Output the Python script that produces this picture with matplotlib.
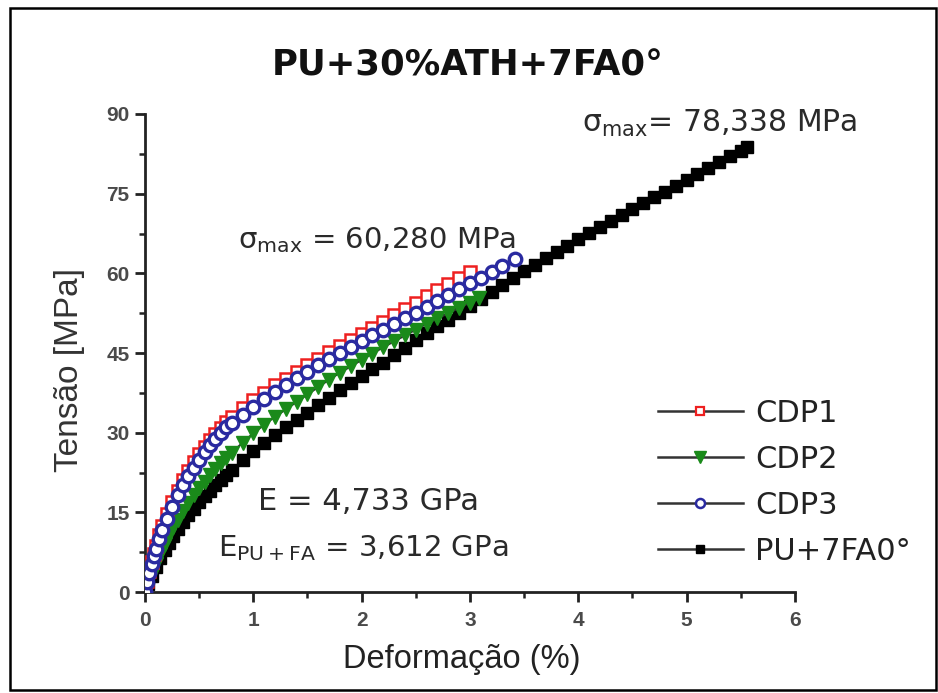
import matplotlib
matplotlib.use("Agg")
import matplotlib.pyplot as plt
from matplotlib.lines import Line2D
from matplotlib.patches import Rectangle

# stress-strain data (strain %, stress MPa)
cdp1_x = [0, 0.02, 0.04, 0.06, 0.08, 0.1, 0.13, 0.16, 0.2, 0.25, 0.3, 0.35, 0.4, 0.45, 0.5,
          0.55, 0.6, 0.65, 0.7, 0.75, 0.8, 0.9, 1.0, 1.1, 1.2, 1.3, 1.4, 1.5, 1.6, 1.7, 1.8,
          1.9, 2.0, 2.1, 2.2, 2.3, 2.4, 2.5, 2.6, 2.7, 2.8, 2.9, 3.0]
cdp1_y = [0, 2.0, 3.9, 5.6, 7.2, 8.7, 10.7, 12.5, 14.7, 17.0, 19.1, 21.0, 22.8, 24.4, 25.9,
          27.3, 28.6, 29.8, 30.9, 32.0, 33.0, 34.6, 36.1, 37.5, 38.9, 40.2, 41.5, 42.7, 43.9,
          45.1, 46.3, 47.5, 48.6, 49.8, 50.9, 52.1, 53.3, 54.5, 55.7, 56.8, 58.0, 59.2, 60.3]

cdp2_x = [0, 0.03, 0.06, 0.1, 0.14, 0.18, 0.22, 0.26, 0.3, 0.35, 0.4, 0.45, 0.5, 0.55, 0.6,
          0.65, 0.7, 0.75, 0.8, 0.9, 1.0, 1.1, 1.2, 1.3, 1.4, 1.5, 1.6, 1.7, 1.8, 1.9, 2.0,
          2.1, 2.2, 2.3, 2.4, 2.5, 2.6, 2.7, 2.8, 2.9, 3.0, 3.08]
cdp2_y = [0, 1.6, 3.2, 5.2, 7.2, 9.0, 10.7, 12.2, 13.6, 15.3, 16.8, 18.2, 19.5, 20.8, 22.0,
          23.1, 24.2, 25.2, 26.2, 28.1, 29.9, 31.5, 33.0, 34.4, 35.8, 37.2, 38.6, 40.0, 41.3,
          42.5, 43.7, 44.9, 46.1, 47.2, 48.3, 49.4, 50.5, 51.5, 52.5, 53.5, 54.5, 55.3]

cdp3_x = [0, 0.02, 0.04, 0.06, 0.08, 0.1, 0.13, 0.16, 0.2, 0.25, 0.3, 0.35, 0.4, 0.45, 0.5,
          0.55, 0.6, 0.65, 0.7, 0.75, 0.8, 0.9, 1.0, 1.1, 1.2, 1.3, 1.4, 1.5, 1.6, 1.7, 1.8,
          1.9, 2.0, 2.1, 2.2, 2.3, 2.4, 2.5, 2.6, 2.7, 2.8, 2.9, 3.0, 3.1, 3.2, 3.3, 3.42]
cdp3_y = [0, 1.8, 3.5, 5.2, 6.7, 8.1, 10.0, 11.7, 13.8, 16.1, 18.2, 20.1, 21.8, 23.4, 24.9,
          26.3, 27.6, 28.8, 29.9, 31.0, 31.9, 33.4, 34.8, 36.3, 37.7, 39.0, 40.3, 41.5, 42.7,
          43.9, 45.0, 46.1, 47.2, 48.3, 49.4, 50.5, 51.6, 52.6, 53.7, 54.8, 55.9, 57.0, 58.1,
          59.2, 60.3, 61.4, 62.7]

pufa_x = [0, 0.03, 0.06, 0.1, 0.14, 0.18, 0.22, 0.26, 0.3, 0.35, 0.4, 0.45, 0.5, 0.55, 0.6,
          0.65, 0.7, 0.75, 0.8, 0.9, 1.0, 1.1, 1.2, 1.3, 1.4, 1.5, 1.6, 1.7, 1.8, 1.9, 2.0,
          2.1, 2.2, 2.3, 2.4, 2.5, 2.6, 2.7, 2.8, 2.9, 3.0, 3.1, 3.2, 3.3, 3.4, 3.5, 3.6,
          3.7, 3.8, 3.9, 4.0, 4.1, 4.2, 4.3, 4.4, 4.5, 4.6, 4.7, 4.8, 4.9, 5.0, 5.1, 5.2,
          5.3, 5.4, 5.5, 5.56]
pufa_y = [0, 1.5, 3.0, 4.8, 6.4, 7.9, 9.3, 10.6, 11.8, 13.2, 14.5, 15.7, 16.9, 18.0, 19.1,
          20.1, 21.1, 22.1, 23.0, 24.8, 26.5, 28.1, 29.6, 31.0, 32.4, 33.8, 35.2, 36.6, 38.0,
          39.3, 40.6, 41.9, 43.2, 44.6, 46.0, 47.4, 48.7, 50.0, 51.3, 52.6, 53.9, 55.2, 56.5,
          57.8, 59.1, 60.4, 61.6, 62.8, 64.0, 65.2, 66.4, 67.6, 68.8, 69.9, 71.0, 72.1, 73.2,
          74.3, 75.4, 76.5, 77.6, 78.7, 79.8, 80.9, 82.0, 83.1, 83.8]

labels = ["CDP1", "CDP2", "CDP3", "PU+7FA0°"]
x_ticks = [0, 1, 2, 3, 4, 5, 6]
y_ticks = [0, 15, 30, 45, 60, 75, 90]

plt.rcParams["mathtext.default"] = "regular"
plt.rcParams["font.family"] = ["DejaVu Sans"]

fig = plt.figure(figsize=(9.38, 6.93), dpi=100)
ax = fig.add_axes([0.1546, 0.1457, 0.6929, 0.6898])

line_col = "#333333"
# black curve at the bottom, blue circles on top
ax.plot(pufa_x, pufa_y, color=line_col, lw=1.5, marker="s", ms=8.5,
        mfc="black", mec="black", zorder=2)
ax.plot(cdp2_x, cdp2_y, color=line_col, lw=1.5, marker="v", ms=10.5,
        mfc="#1a8a1a", mec="#1a8a1a", zorder=3)
ax.plot(cdp1_x, cdp1_y, color=line_col, lw=1.5, marker="s", ms=8.5,
        mfc="white", mec="#ee2020", mew=1.8, zorder=4)
ax.plot(cdp3_x, cdp3_y, color=line_col, lw=1.5, marker="o", ms=9,
        mfc="white", mec="#2a2aa0", mew=2.4, zorder=5)

ax.set_xlim(0, 6)
ax.set_ylim(0, 90)
ax.set_xticks(x_ticks)
ax.set_yticks(y_ticks)
ax.set_xticks([0.5, 1.5, 2.5, 3.5, 4.5, 5.5], minor=True)
ax.set_yticks([7.5, 22.5, 37.5, 52.5, 67.5, 82.5], minor=True)
for s in ["top", "right"]:
    ax.spines[s].set_visible(False)
for s in ["left", "bottom"]:
    ax.spines[s].set_linewidth(2.0)
    ax.spines[s].set_color("#222222")
ax.tick_params(which="major", direction="out", length=7, width=2.0, color="#222222",
               labelsize=15, labelcolor="#4a4a4a")
ax.tick_params(axis="x", which="major", pad=7)
ax.tick_params(axis="y", which="major", pad=4)
ax.tick_params(which="minor", direction="out", length=4, width=1.8, color="#222222")
for lab in ax.get_xticklabels() + ax.get_yticklabels():
    lab.set_family("Liberation Sans")
    lab.set_fontweight("bold")

fig.text(0.4925, 0.048, "Deformação (%)", ha="center", va="center",
         fontsize=23.5, color="#222222", family="Liberation Sans")
fig.text(0.0746, 0.466, "Tensão [MPa]", ha="center", va="center", rotation=90,
         fontsize=24, color="#333333", family="Liberation Sans")
fig.text(0.499, 0.906, "PU+30%ATH+7FA0°", ha="center", va="center",
         fontsize=25.5, fontweight="bold", color="#111111")

ann_col = "#2a2a2a"
fig.text(0.254, 0.642, r"$\sigma_{max}$ = 60,280 MPa", ha="left", va="baseline",
         fontsize=21, color=ann_col)
fig.text(0.620, 0.810, r"$\sigma_{max}$= 78,338 MPa", ha="left", va="baseline",
         fontsize=21.5, color=ann_col)
fig.text(0.275, 0.264, "E = 4,733 GPa", ha="left", va="baseline",
         fontsize=22, color=ann_col)
fig.text(0.232, 0.198, r"$E_{PU+FA}$ = 3,612 GPa", ha="left", va="baseline",
         fontsize=21, color=ann_col)

handles = [
    Line2D([], [], color=line_col, lw=1.8, marker="s", ms=6, mfc="white", mec="#ee2020", mew=1.6),
    Line2D([], [], color=line_col, lw=1.8, marker="v", ms=8, mfc="#1a8a1a", mec="#1a8a1a"),
    Line2D([], [], color=line_col, lw=1.8, marker="o", ms=6.5, mfc="white", mec="#2a2aa0", mew=1.8),
    Line2D([], [], color=line_col, lw=1.8, marker="s", ms=6, mfc="black", mec="black"),
]
leg = fig.legend(handles, labels, loc="upper left", bbox_to_anchor=(0.7015, 0.424),
                 frameon=False, fontsize=22, handlelength=2.78, handletextpad=0.4,
                 labelspacing=0.55, borderpad=0, borderaxespad=0)
for t in leg.get_texts():
    t.set_color("#222222")

fig.patches.append(Rectangle((0.011, 0.004), 0.987, 0.984, transform=fig.transFigure,
                             fill=False, edgecolor="black", lw=1.8))

fig.savefig("out.png", dpi=100)
